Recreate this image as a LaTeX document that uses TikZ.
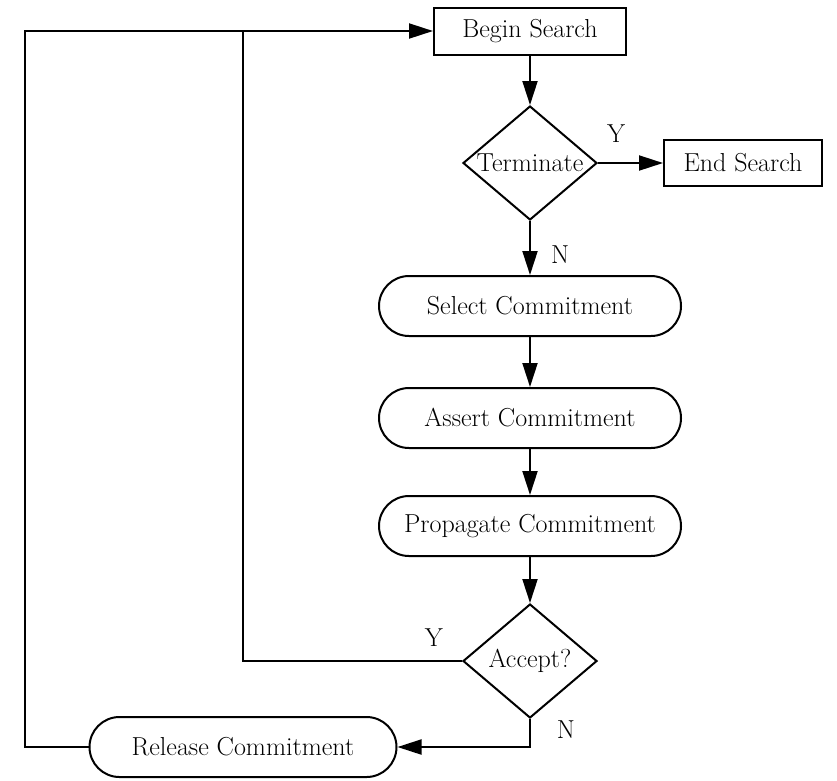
\documentclass[tikz,border=0pt]{standalone}
\usetikzlibrary{shapes.geometric,arrows.meta}
\begin{document}
\begin{tikzpicture}[x=1pt,y=-1pt,
  every node/.style={font=\fontsize{26}{30}\selectfont},
  conn/.style={line width=2pt},
  arr/.style={conn,-{Triangle[length=24pt,width=15pt]}},
  sqbox/.style={draw,line width=2pt,rectangle,minimum height=47pt,inner sep=0pt},
  pill/.style={draw,line width=2pt,rectangle,rounded corners=30pt,minimum width=302pt,minimum height=60pt,inner sep=0pt},
  decide/.style={draw,line width=2pt,diamond,aspect=1.2,minimum width=134pt,minimum height=114pt,inner xsep=-10pt,inner ysep=0pt},
  lbl/.style={inner sep=0pt}]
\useasboundingbox (0,0) rectangle (837,780);

% process steps
\node[sqbox,minimum width=192pt] (bs) at (530,31) {Begin Search};
\node[decide] (term) at (530,163) {Terminate};
\node[sqbox,minimum width=158pt,minimum height=46pt] (es) at (743,163) {End Search};
\node[pill] (sel) at (530,306) {Select Commitment};
\node[pill] (ast) at (530,418) {Assert Commitment};
\node[pill] (prop) at (530,526) {Propagate Commitment};
\node[decide] (acc) at (530,661) {Accept?};
\node[pill,minimum width=307pt] (rel) at (243,747) {Release Commitment};

% branch labels
\node[lbl] (ty) at (616,134) {Y};
\node[lbl] (tn) at (560,255) {N};
\node[lbl] (ay) at (434,638) {Y};
\node[lbl] (an) at (566,730) {N};

% loop columns
\coordinate (outer) at (25,0);
\coordinate (inner) at (243,0);

% main flow
\draw[arr] (bs) -- (term);
\draw[arr] (term) -- (es);
\draw[arr] (term) -- (sel);
\draw[arr] (sel) -- (ast);
\draw[arr] (ast) -- (prop);
\draw[arr] (prop) -- (acc);

% feedback paths
\draw[arr] (acc.south) |- (rel.east);
\draw[conn] (acc.west) -| (inner |- bs.west);
\draw[arr] (rel.west) -| (outer |- bs.west) -- (bs.west);
\end{tikzpicture}
\end{document}
